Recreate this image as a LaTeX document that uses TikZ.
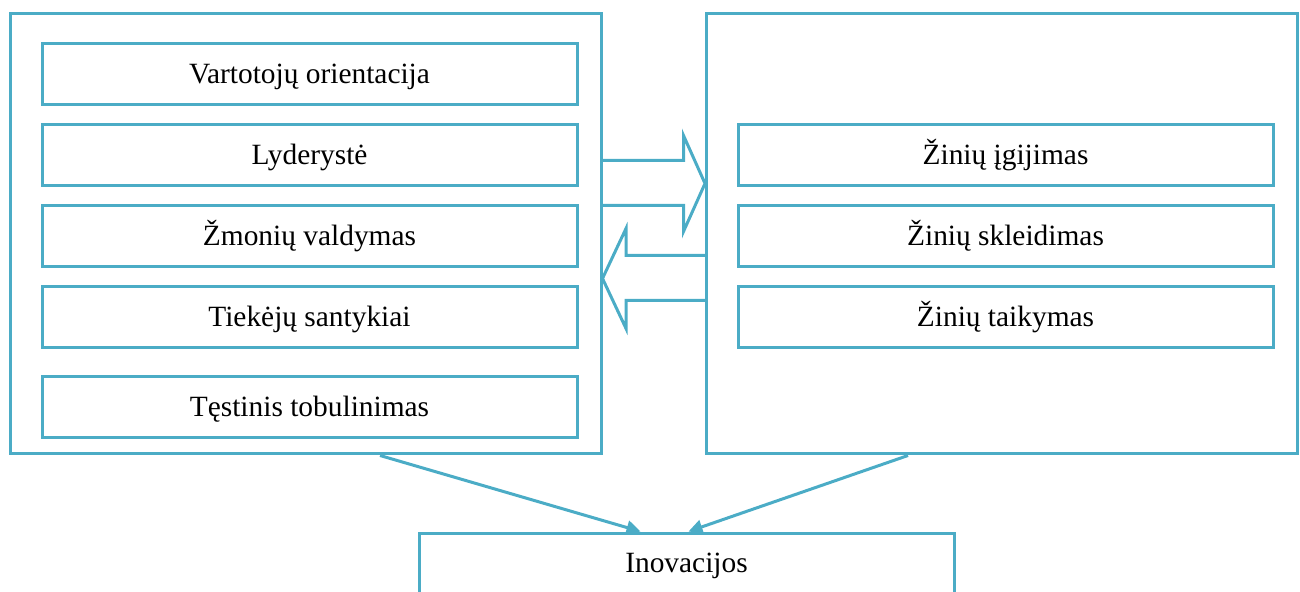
\documentclass[tikz,border=0pt]{standalone}
\usepackage{fontspec}
\setmainfont{Liberation Serif}
\usepackage{xcolor}
\usetikzlibrary{
    arrows.meta,
    calc,
    positioning
}
\definecolor{accent}{HTML}{4BACC6}

\begin{document}
\begin{tikzpicture}[x=0.5pt, y=-0.5pt,
        frame/.style={draw=accent, line width=1.5pt},
        item/.style={frame, minimum width=267.5pt, minimum height=30.5pt, inner sep=0pt,
            text height=9.5pt, text depth=0pt, font=\fontsize{14.7}{17}\selectfont},
        outer/.style={frame, minimum width=295.5pt, minimum height=220pt, inner sep=0pt},
        link/.style={draw=accent, line width=1.5pt, -{Triangle[length=7pt, width=7pt]}}]
                        \clip (0, 0) rectangle (1300, 592);
                        % left block
                        \node[outer] (org) at (305.5, 234) {};
                        \node[item] (vart) at (309.5, 74.5) {Vartotojų orientacija};
                        \node[item] (lyd) at (309.5, 155.5) {Lyderystė};
                        \node[item] (zmon) at (309.5, 236.5) {Žmonių valdymas};
                        \node[item] (tiek) at (309.5, 317.5) {Tiekėjų santykiai};
                        \node[item] (test) at (309.5, 407.5) {Tęstinis tobulinimas};
                        % right block
                        \node[outer] (zin) at (1002, 234) {};
                        \node[item] (igij) at (1005.5, 155.5) {Žinių įgijimas};
                        \node[item] (skl) at (1005.5, 236.5) {Žinių skleidimas};
                        \node[item] (taik) at (1005.5, 317.5) {Žinių taikymas};
                        % bottom
                        \node[item, minimum height=35pt, text height=9pt, text depth=5pt] (inov) at (686.5, 568) {Inovacijos};
                        % block arrows
                        \draw[frame, line join=miter]
                            ($(org.north east)+(0, 148)$) -- ++(81, 0) -- ++(0, -25)
                            -- ($(zin.north west)+(0, 171)$)
                            -- ($(org.north east)+(81, 219)$) -- ++(0, -26) -- ++(-81, 0);
                        \draw[frame, line join=miter]
                            ($(zin.north west)+(0, 243)$) -- ++(-79, 0) -- ++(0, -27)
                            -- ($(org.north east)+(0, 266)$)
                            -- ($(zin.north west)+(-79, 316)$) -- ++(0, -28) -- ++(79, 0);
                        % links
                        \draw[link] ($(org.south)+(74.5, 0)$) -- ($(inov.north)+(-46, 0)$);
                        \draw[link] ($(zin.south)+(-94, 0)$) -- ($(inov.north)+(2, 0)$);
                    \end{tikzpicture}
\end{document}
